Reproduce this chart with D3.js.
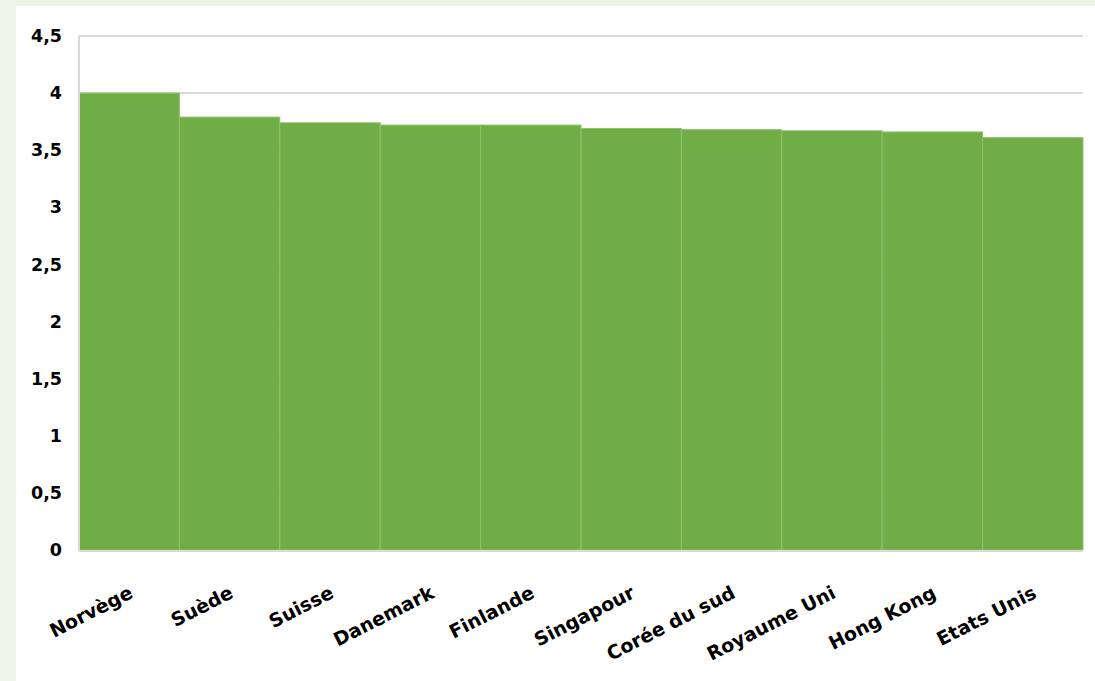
<!DOCTYPE html>
<html>
<head>
<meta charset="utf-8">
<script src="https://cdn.jsdelivr.net/npm/d3@7"></script>
<style>
  body { margin: 0; background: #edf4e5; }
  svg { display: block; }
</style>
</head>
<body>
<div class="chart"></div>
<script>
const countries = ['Norvège', 'Suède', 'Suisse', 'Danemark', 'Finlande',
    'Singapour', 'Corée du sud', 'Royaume Uni', 'Hong Kong', 'Etats Unis'];
const values = [4.0, 3.79, 3.74, 3.72, 3.72, 3.69, 3.68, 3.67, 3.66, 3.61];
const yTicks = [0, 0.5, 1, 1.5, 2, 2.5, 3, 3.5, 4, 4.5];

const width = 1095, height = 681;
const margin = { top: 36, right: 12, bottom: 131, left: 79 };
const font = '"DejaVu Sans", Verdana, sans-serif';

const svg = d3.select('.chart')
    .append('svg')
        .attr('width', width)
        .attr('height', height);

// light green frame around the white panel
svg.append('rect')
    .attr('width', width).attr('height', height)
    .attr('fill', '#edf4e5');
svg.append('rect')
    .attr('x', 16).attr('y', 6)
    .attr('width', width - 16).attr('height', height - 6)
    .attr('fill', '#fff');

const x = d3.scaleBand()
    .domain(countries)
    .range([margin.left, width - margin.right])
    .padding(0);

const y = d3.scaleLinear()
    .domain([0, 4.5])
    .range([height - margin.bottom, margin.top]);

const fmt = d => String(d).replace('.', ',');

// gridlines
svg.append('g')
    .selectAll('line')
    .data(yTicks.slice(1))
    .enter()
        .append('line')
        .attr('x1', margin.left)
        .attr('x2', width - margin.right)
        .attr('y1', d => y(d))
        .attr('y2', d => y(d))
        .attr('stroke', '#d9d9d9')
        .attr('stroke-width', 2);

// bars
svg.append('g')
    .selectAll('rect')
    .data(values)
    .enter()
        .append('rect')
        .attr('x', (d, i) => x(countries[i]))
        .attr('y', d => y(d))
        .attr('width', x.bandwidth())
        .attr('height', d => y(0) - y(d))
        .attr('fill', '#70ad47')
        .attr('stroke', '#8fc26a')
        .attr('stroke-width', 1);

// axis lines
svg.append('line')
    .attr('x1', margin.left).attr('x2', margin.left)
    .attr('y1', y(4.5)).attr('y2', y(0))
    .attr('stroke', '#d9d9d9').attr('stroke-width', 2);
svg.append('line')
    .attr('x1', margin.left).attr('x2', width - margin.right)
    .attr('y1', y(0) + 1).attr('y2', y(0) + 1)
    .attr('stroke', '#d9d9d9').attr('stroke-width', 2);

// y axis labels
const yAxis = d3.axisLeft(y)
    .tickValues(yTicks)
    .tickFormat(fmt)
    .tickSize(0)
    .tickPadding(17);

svg.append('g')
    .attr('transform', `translate(${margin.left},0)`)
    .call(yAxis)
    .call(g => g.select('.domain').remove())
    .selectAll('text')
        .attr('font-family', font)
        .attr('font-weight', 'bold')
        .attr('font-size', 17.5)
        .attr('fill', '#000');

// x axis labels
const xAxis = d3.axisBottom(x).tickSize(0).tickPadding(0);

svg.append('g')
    .attr('transform', `translate(0,${y(0)})`)
    .call(xAxis)
    .call(g => g.select('.domain').remove())
    .selectAll('text')
        .attr('font-family', font)
        .attr('font-weight', 'bold')
        .attr('font-size', 19)
        .attr('fill', '#000')
        .attr('text-anchor', 'end')
        .attr('dy', 0)
        .attr('transform', 'translate(5,47) rotate(-27)');
</script>
</body>
</html>
